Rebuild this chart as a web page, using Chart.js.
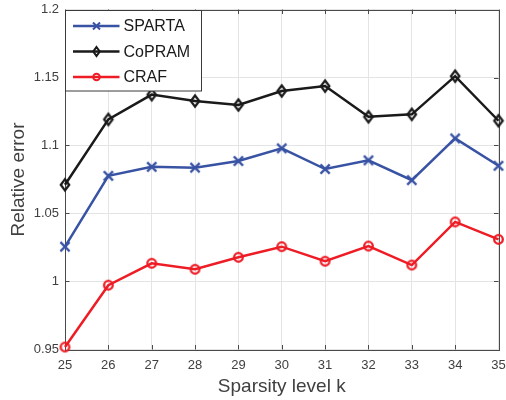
<!DOCTYPE html>
<html>
<head>
<meta charset="utf-8">
<script src="https://cdn.jsdelivr.net/npm/chart.js@4.4.0/dist/chart.umd.min.js"></script>
<style>
html, body { margin: 0; padding: 0; background: #fff; }
</style>
</head>
<body>
<canvas id="graphique" width="506" height="400"></canvas>
<script>
// sparsity levels on the x axis
const ks = [25, 26, 27, 28, 29, 30, 31, 32, 33, 34, 35];

// relative error per method
const sparta = [1.0256, 1.0777, 1.0843, 1.0837, 1.0886, 1.0979, 1.0827, 1.0891, 1.0745, 1.1052, 1.0851];
const copram = [1.0711, 1.1192, 1.1374, 1.1327, 1.1298, 1.1401, 1.1437, 1.1211, 1.1229, 1.1510, 1.1182];
const craf   = [0.9518, 0.9973, 1.0134, 1.0090, 1.0178, 1.0256, 1.0149, 1.0261, 1.0121, 1.0438, 1.0310];

const yTicks = [0.95, 1, 1.05, 1.1, 1.15, 1.2];

const FONT = "'Liberation Sans', Arial, Helvetica, sans-serif";

function drawMarker(ctx, kind, x, y, s, color, lw) {
    ctx.save();
    ctx.strokeStyle = color;
    ctx.lineWidth = lw;
    ctx.beginPath();
    if (kind === 'x') {
        ctx.moveTo(x - s, y - s); ctx.lineTo(x + s, y + s);
        ctx.moveTo(x - s, y + s); ctx.lineTo(x + s, y - s);
    } else if (kind === 'd') {
        ctx.moveTo(x, y - s * 1.35); ctx.lineTo(x + s, y);
        ctx.lineTo(x, y + s * 1.35); ctx.lineTo(x - s, y);
        ctx.closePath();
    } else {
        ctx.arc(x, y, s, 0, Math.PI * 2);
    }
    ctx.stroke();
    ctx.restore();
}

function makeMarker(kind, s, color, lw) {
    const c = document.createElement('canvas');
    const n = Math.ceil(2 * (s * 1.35 + lw)) + 2;
    c.width = n; c.height = n;
    drawMarker(c.getContext('2d'), kind, n / 2, n / 2, s, color, lw);
    return c;
}

const BLUE = '#3953a4';
const BLACK = '#1a1a1a';
const RED = '#ee1c25';

// box + inward ticks, matlab style
const axesBox = {
    id: 'axesBox',
    beforeDatasetsDraw(chart) {
        const {ctx, chartArea: a, scales} = chart;
        const t = 4.5;
        ctx.save();
        ctx.strokeStyle = '#4a4a4a';
        ctx.lineWidth = 1;
        ctx.beginPath();
        scales.x.ticks.forEach((tk, i) => {
            const px = Math.round(scales.x.getPixelForTick(i)) + 0.5;
            ctx.moveTo(px, a.bottom); ctx.lineTo(px, a.bottom - t);
            ctx.moveTo(px, a.top); ctx.lineTo(px, a.top + t);
        });
        yTicks.forEach(v => {
            const py = Math.round(scales.y.getPixelForValue(v)) + 0.5;
            ctx.moveTo(a.left, py); ctx.lineTo(a.left + t, py);
            ctx.moveTo(a.right, py); ctx.lineTo(a.right - t, py);
        });
        ctx.stroke();
        ctx.strokeRect(Math.round(a.left) + 0.5, Math.round(a.top) + 0.5,
            Math.round(a.right - a.left), Math.round(a.bottom - a.top));
        ctx.restore();
    }
};

const legendBox = {
    id: 'legendBox',
    afterDatasetsDraw(chart) {
        const {ctx, chartArea: a} = chart;
        const x0 = Math.round(a.left) + 0.5, y0 = Math.round(a.top) + 0.5;
        ctx.save();
        ctx.fillStyle = '#fff';
        ctx.fillRect(x0, y0, 136, 80.5);
        ctx.strokeStyle = '#3a3a3a';
        ctx.lineWidth = 1;
        ctx.strokeRect(x0, y0, 136, 80.5);
        chart.data.datasets.forEach((ds, i) => {
            const y = y0 + 15.5 + i * 25.5;
            ctx.strokeStyle = ds.borderColor;
            ctx.lineWidth = 2.5;
            ctx.beginPath();
            ctx.moveTo(x0 + 7.5, y); ctx.lineTo(x0 + 54, y);
            ctx.stroke();
            drawMarker(ctx, ds.markerKind, x0 + 31, y, ds.markerKind === 'x' ? 3.5 : 3.3, ds.borderColor, 2);
            ctx.fillStyle = '#1a1a1a';
            ctx.font = '16px ' + FONT;
            ctx.textBaseline = 'middle';
            ctx.textAlign = 'left';
            ctx.fillText(ds.label, x0 + 58, y + 1);
        });
        ctx.restore();
    }
};

function makeDataset(label, data, color, kind, size) {
    return {
        label: label,
        data: data,
        markerKind: kind,
        borderColor: color,
        backgroundColor: color,
        borderWidth: 2.5,
        pointStyle: makeMarker(kind, size, color, 2.3),
        pointRadius: 5,
        pointHoverRadius: 5,
        tension: 0,
        clip: false
    };
}

const ctx = document.getElementById('graphique').getContext('2d');
const myChart = new Chart(ctx, {
    type: 'line',
    data: {
        labels: ks,
        datasets: [
            makeDataset('SPARTA', sparta, BLUE, 'x', 4.6),
            makeDataset('CoPRAM', copram, BLACK, 'd', 4.2),
            makeDataset('CRAF', craf, RED, 'o', 4.3)
        ]
    },
    options: {
        responsive: false,
        animation: false,
        events: [],
        layout: { padding: { top: 9.5, right: 6, left: 0, bottom: 0 } },
        plugins: {
            legend: { display: false },
            tooltip: { enabled: false }
        },
        scales: {
            x: {
                type: 'category',
                offset: false,
                afterFit: s => { s.height = 50.5; s.paddingLeft = 0; s.paddingRight = 0; },
                grid: { color: '#e4e4e4', drawTicks: false },
                border: { display: false },
                ticks: { color: '#404040', font: { family: FONT, size: 13 }, padding: 8, maxRotation: 0, autoSkip: false },
                title: { display: true, text: 'Sparsity level k', color: '#404040',
                         font: { family: FONT, size: 19 }, padding: { top: 0, bottom: 2 } }
            },
            y: {
                min: 0.95,
                max: 1.2,
                afterFit: s => { s.width = 65; s.paddingTop = 0; s.paddingBottom = 0; },
                afterBuildTicks: s => { s.ticks = yTicks.map(v => ({ value: v })); },
                grid: { color: '#e4e4e4', drawTicks: false },
                border: { display: false },
                ticks: { color: '#404040', font: { family: FONT, size: 13 }, padding: 6,
                         callback: v => String(+v.toFixed(2)) },
                title: { display: true, text: 'Relative error', color: '#404040',
                         font: { family: FONT, size: 19 }, padding: { top: 7, bottom: 0 } }
            }
        }
    },
    plugins: [axesBox, legendBox]
});
</script>
</body>
</html>
